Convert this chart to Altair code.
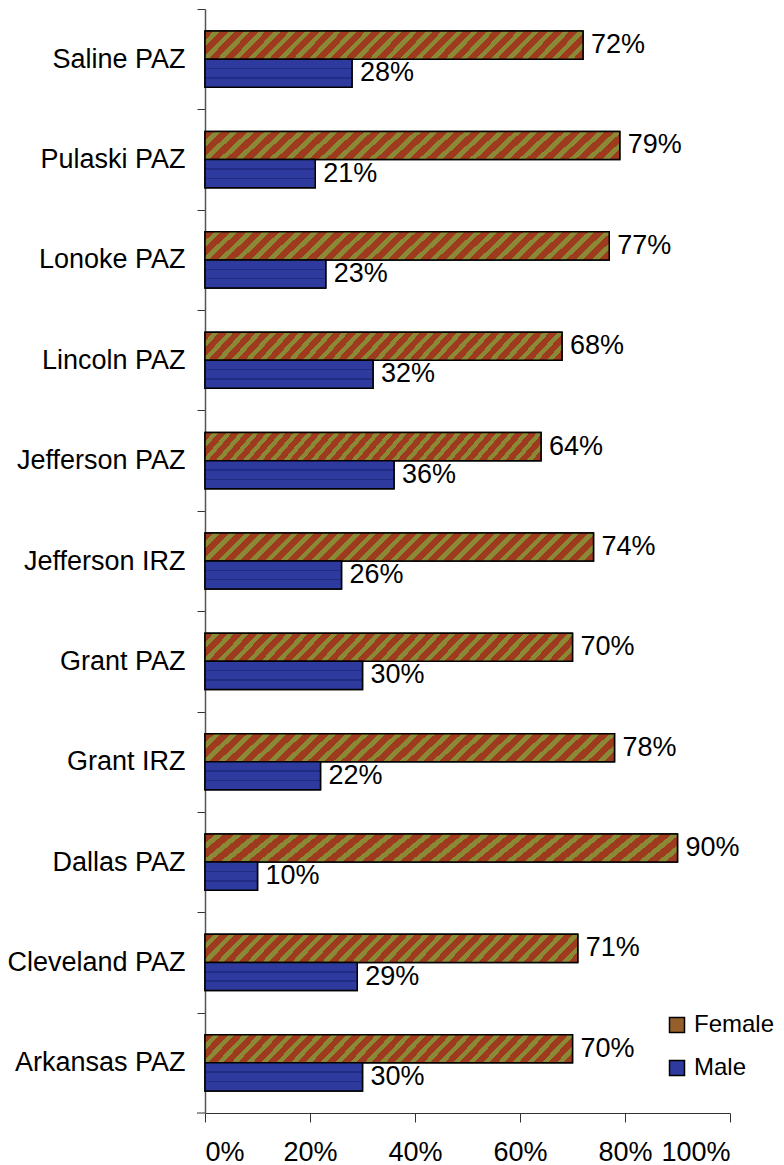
import altair as alt
import pandas as pd

regions = ["Saline PAZ", "Pulaski PAZ", "Lonoke PAZ", "Lincoln PAZ", "Jefferson PAZ",
           "Jefferson IRZ", "Grant PAZ", "Grant IRZ", "Dallas PAZ", "Cleveland PAZ",
           "Arkansas PAZ"]
female = [72, 79, 77, 68, 64, 74, 70, 78, 90, 71, 70]
male = [28, 21, 23, 32, 36, 26, 30, 22, 10, 29, 30]
series = ["Female", "Male"]
x_ticks = [0, 0.2, 0.4, 0.6, 0.8, 1.0]

rows = []
for r, f, m in zip(regions, female, male):
    rows.append({"region": r, "sex": "Female", "share": f / 100})
    rows.append({"region": r, "sex": "Male", "share": m / 100})
df = pd.DataFrame(rows)

W, H = 525, 1104
step = H / len(regions)
FONT = "Liberation Sans"

# diagonal stripe pattern (approximated with a linear gradient)
RED, OLIVE = "#9e3a1e", "#8a8a36"
N = 27
olive_frac = 0.42
f_stops = []
for i in range(N):
    a = i / N
    b = (i + 1 - olive_frac) / N
    c = (i + 1) / N
    f_stops += [{"offset": a, "color": RED}, {"offset": b, "color": RED},
                {"offset": b, "color": OLIVE}, {"offset": c, "color": OLIVE}]
grad_f = {"gradient": "linear", "x1": 0, "y1": 0, "x2": 1.08, "y2": 0.078, "stops": f_stops}

# brick-like pattern (horizontal mortar lines)
BLUE, MORTAR = "#2e3a9e", "#232c84"
m_stops = [{"offset": 0, "color": BLUE}]
for p in (1 / 3, 2 / 3):
    m_stops += [{"offset": p - 0.025, "color": BLUE}, {"offset": p - 0.025, "color": MORTAR},
                {"offset": p + 0.025, "color": MORTAR}, {"offset": p + 0.025, "color": BLUE}]
m_stops += [{"offset": 1, "color": BLUE}]
grad_m = {"gradient": "linear", "x1": 0, "y1": 0, "x2": 0, "y2": 1, "stops": m_stops}

y_enc = alt.Y("region:N", sort=regions,
              scale=alt.Scale(paddingInner=0.44, paddingOuter=0.22),
              axis=alt.Axis(title=None, tickSize=8, tickOffset=-step / 2, labelOffset=step / 2,
                            labelFontSize=27, labelPadding=12, labelColor="black",
                            labelLimit=400, domainColor="#555", tickColor="#333",
                            domainWidth=1.5))
yoff_enc = alt.YOffset("sex:N", scale=alt.Scale(domain=series))
x_enc = alt.X("share:Q", scale=alt.Scale(domain=[0, 1]),
              axis=alt.Axis(values=x_ticks, format=".0%", title=None, grid=False,
                            labelFontSize=27, tickSize=9, labelPadding=17,
                            labelColor="black", domainColor="#333", tickColor="#333"))

base = alt.Chart(df).encode(y=y_enc, yOffset=yoff_enc, x=x_enc)

legend_layer = base.mark_bar(stroke="black", strokeWidth=1.5).encode(
    fill=alt.Fill("sex:N", scale=alt.Scale(domain=series, range=["#955f2a", BLUE]),
                  legend=alt.Legend(title=None, orient="none", legendX=460, legendY=1004,
                                    symbolType="square", symbolSize=225,
                                    symbolStrokeColor="black", symbolStrokeWidth=1.5,
                                    labelFontSize=24, labelColor="black", rowPadding=19,
                                    labelOffset=5))
)

fem_layer = base.transform_filter(alt.datum.sex == "Female").mark_bar(
    stroke="black", strokeWidth=1.5).encode(fill=alt.value(grad_f))
male_layer = base.transform_filter(alt.datum.sex == "Male").mark_bar(
    stroke="black", strokeWidth=1.5).encode(fill=alt.value(grad_m))

text_layer = base.mark_text(align="left", baseline="middle", dx=8, fontSize=27,
                            color="black").encode(text=alt.Text("share:Q", format=".0%"))

tick_layer = alt.Chart(pd.DataFrame({"k": [0]})).mark_rule(color="#333").encode(
    x=alt.value(-8), x2=alt.value(0), y=alt.value(H))

chart = alt.layer(legend_layer, fem_layer, male_layer, text_layer, tick_layer).properties(
    width=W, height=H,
    autosize=alt.AutoSizeParams(type="none"),
    padding={"left": 197, "top": 1, "right": 46, "bottom": 52},
).configure(font=FONT).configure_view(stroke=None)

chart.save("out.html", embed_options={"renderer": "svg", "actions": False})
